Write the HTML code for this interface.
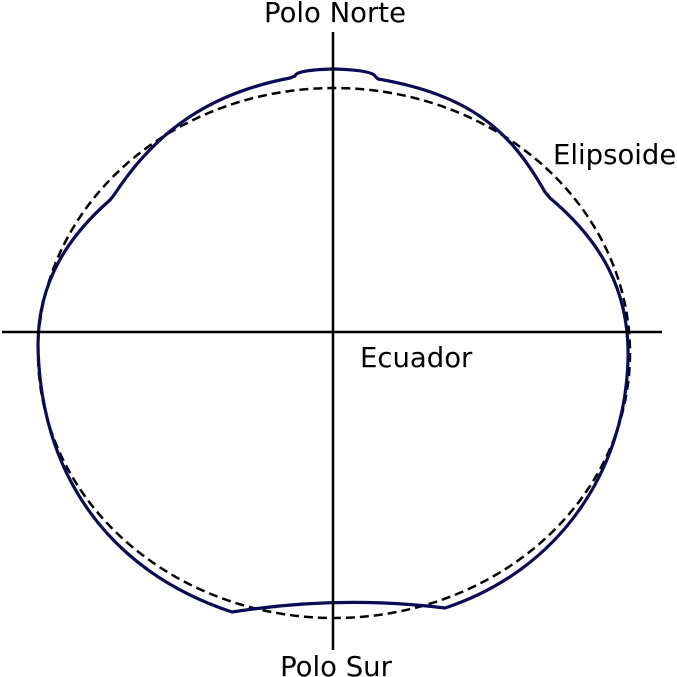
<!DOCTYPE html>
<html><head><style>html,body{margin:0;padding:0;background:#fff;}svg{display:block}</style></head>
<body>
<svg width="677" height="677" viewBox="0 0 677 677" xmlns="http://www.w3.org/2000/svg">
<rect width="677" height="677" fill="#fff"/>
<ellipse cx="334" cy="353" rx="296" ry="265" fill="none" stroke="#000" stroke-width="2.5" stroke-dasharray="9,5"/>
<path d="M295,76 Q296,70 333,69 Q371,70 375,76 L378,79
 C470,95 510,130 545,192 L550,198
 C600,240 630,290 628,360
 C625,470 560,570 445,608
 Q340,595 232,612
 C105,570 40,470 38,345
 C38,280 70,235 110,200 L114,195
 C150,140 200,95 290,78 Z"
 fill="none" stroke="#0a0a55" stroke-width="3.2" stroke-linejoin="round"/>
<line x1="333" y1="32" x2="333" y2="650" stroke="#000" stroke-width="2.5"/>
<line x1="2" y1="332" x2="662" y2="332" stroke="#000" stroke-width="2.5"/>
<g font-family="DejaVu Sans, sans-serif" font-size="27.5" fill="#000">
<text x="335" y="22" text-anchor="middle">Polo Norte</text>
<text x="336" y="676" text-anchor="middle">Polo Sur</text>
<text x="360" y="367">Ecuador</text>
<text x="553" y="164">Elipsoide</text>
</g>
</svg>
</body></html>
